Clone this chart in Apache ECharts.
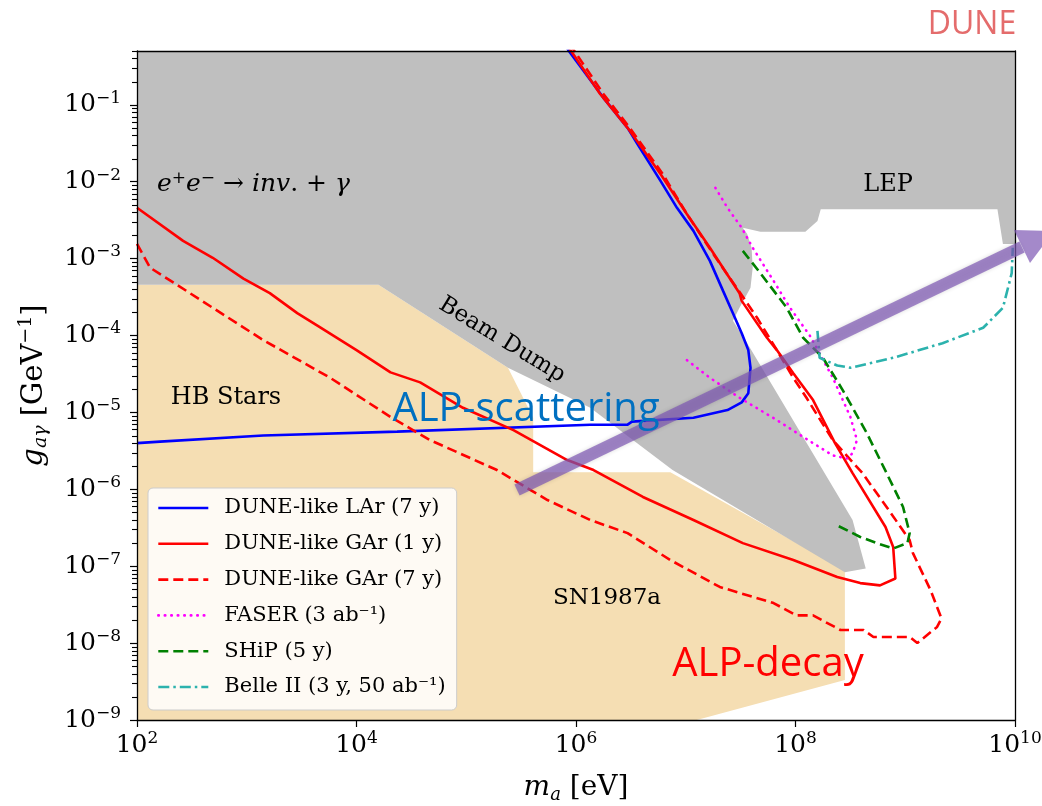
<!DOCTYPE html>
<html>
<head>
<meta charset="utf-8">
<title>ALP – photon coupling, DUNE</title>
<script src="https://cdn.jsdelivr.net/npm/echarts@6/dist/echarts.min.js"></script>
<style>
html, body { margin: 0; padding: 0; background: #fff; }
#chart { width: 1042px; height: 806px; }
</style>
</head>
<body>
<div id="chart"></div>
<script>
// every point is [log10(m_a / eV), log10(g_agamma / GeV^-1)]
const xTickExps = [2, 4, 6, 8, 10]
const yTickExps = [-9, -8, -7, -6, -5, -4, -3, -2, -1]
const yTop = 0.5
const minorMantissas = [2, 3, 4, 5, 6, 7, 8, 9]

const larSevenYears = [
  [2.00, -5.40], [2.21, -5.38], [3.15, -5.30], [4.37, -5.25], [6.13, -5.16], [6.47, -5.16],
  [6.51, -5.12], [7.07, -5.07], [7.25, -5.01], [7.38, -4.97], [7.51, -4.87], [7.57, -4.75],
  [7.59, -4.42], [7.57, -4.19], [7.51, -3.97], [7.43, -3.71], [7.34, -3.42], [7.22, -3.03],
  [7.07, -2.64], [6.92, -2.34], [6.77, -1.99], [6.56, -1.51], [6.47, -1.30], [6.25, -0.91],
  [5.94, -0.31], [5.92, -0.27]
]
const garOneYear = [
  [2.00, -2.34], [2.42, -2.77], [2.69, -2.99], [2.97, -3.26], [3.21, -3.45], [3.46, -3.71],
  [3.64, -3.87], [4.00, -4.19], [4.31, -4.48], [4.58, -4.61], [4.97, -4.94], [5.43, -5.23],
  [5.92, -5.62], [6.16, -5.75], [6.61, -6.10], [7.07, -6.40], [7.52, -6.70], [7.98, -6.92],
  [8.38, -7.14], [8.59, -7.22], [8.77, -7.25], [8.91, -7.16], [8.89, -6.75], [8.82, -6.49],
  [8.52, -5.79], [8.36, -5.40], [8.16, -4.84], [7.98, -4.49], [7.83, -4.19], [7.74, -4.03],
  [7.51, -3.55], [7.49, -3.45], [7.22, -2.86], [7.01, -2.42], [6.77, -1.90], [6.47, -1.30],
  [6.22, -0.86], [5.96, -0.31], [5.94, -0.27]
]
const garSevenYears = [
  [2.00, -2.81], [2.12, -3.12], [2.33, -3.31], [2.69, -3.64], [3.15, -4.06], [3.76, -4.55],
  [4.31, -5.06], [4.67, -5.36], [5.28, -5.75], [5.74, -6.14], [6.13, -6.40], [6.47, -6.57],
  [6.86, -6.92], [7.31, -7.27], [7.80, -7.48], [8.01, -7.64], [8.16, -7.64], [8.41, -7.83],
  [8.62, -7.83], [8.71, -7.92], [9.04, -7.92], [9.11, -8.00], [9.29, -7.79], [9.33, -7.68],
  [9.23, -7.31], [9.07, -6.83], [9.04, -6.66], [8.83, -6.23], [8.61, -5.79], [8.34, -5.36],
  [8.10, -4.81], [7.98, -4.55], [7.83, -4.19], [7.65, -3.77], [7.56, -3.58], [7.25, -2.94],
  [7.01, -2.42], [6.79, -1.90], [6.49, -1.30], [6.25, -0.86], [5.99, -0.31], [5.97, -0.27]
]
const faser = [
  [7.27, -2.08], [7.38, -2.34], [7.51, -2.60], [7.61, -2.86], [7.80, -3.29], [7.95, -3.64],
  [8.13, -4.00], [8.34, -4.55], [8.50, -5.06], [8.56, -5.36], [8.52, -5.53], [8.47, -5.60],
  [8.34, -5.56], [8.16, -5.40], [7.83, -5.10], [7.49, -4.81], [7.22, -4.55], [7.01, -4.32]
]
const ship = [
  [7.52, -2.90], [7.68, -3.19], [7.92, -3.64], [8.07, -4.03], [8.25, -4.29], [8.43, -4.71],
  [8.65, -5.27], [8.83, -5.79], [8.98, -6.23], [9.04, -6.57], [9.02, -6.70], [8.89, -6.77],
  [8.74, -6.70], [8.59, -6.62], [8.38, -6.47]
]
const belle2 = [
  [8.20, -3.94], [8.22, -4.29], [8.38, -4.39], [8.50, -4.42], [8.89, -4.29], [9.34, -4.10],
  [9.71, -3.90], [9.89, -3.64], [9.97, -3.19], [9.98, -2.86]
]
// HB stars + SN1987a (wheat) and e+e-/beam dump/LEP (grey) excluded regions
const starsRegion = [
  [2.00, -3.34], [4.20, -3.34], [5.38, -4.42], [5.61, -5.07], [5.61, -5.78], [6.86, -5.78],
  [8.45, -7.05], [8.45, -8.48], [7.10, -9.00], [2.00, -9.00]
]
const labRegion = [
  [2.00, -0.30], [10.00, -0.30], [10.00, -2.81], [9.89, -2.81], [9.84, -2.36], [8.23, -2.36],
  [8.20, -2.51], [8.09, -2.65], [7.68, -2.65], [7.52, -2.60], [7.56, -2.68], [7.60, -2.86],
  [7.61, -3.12], [7.59, -3.38], [7.49, -3.64], [7.43, -3.81], [7.56, -4.10], [8.52, -6.40],
  [8.64, -7.03], [8.45, -7.08], [6.88, -5.75], [6.13, -4.94], [5.38, -4.42], [4.20, -3.34],
  [2.00, -3.34]
]

const serif = 'DejaVu Serif'
const lineWidth = 2.6
const toValues = pts => pts.map(p => [Math.pow(10, p[0]), Math.pow(10, p[1])])
const xMin = Math.pow(10, xTickExps[0])
const xMax = Math.pow(10, xTickExps[xTickExps.length - 1])
const yMin = Math.pow(10, yTickExps[0])

const yMinor = []
yTickExps.forEach(e => {
  minorMantissas.forEach(m => {
    const v = m * Math.pow(10, e)
    if (v <= yTop) yMinor.push(v)
  })
})

function powerLabel(v) {
  const e = Math.round(Math.log10(v))
  if (Math.abs(Math.log10(v) - e) > 1e-6) return ''
  return '{b|10}{s|' + String(e).replace('-', '\u2212') + '}'
}
const labelRich = {
  b: { fontFamily: serif, fontSize: 25, color: '#000', lineHeight: 30 },
  s: { fontFamily: serif, fontSize: 17, color: '#000', lineHeight: 16, verticalAlign: 'top' }
}

function region(name, pts, color, z) {
  const data = toValues(pts)
  return {
    type: 'custom',
    name: name,
    z: z,
    silent: true,
    clip: true,
    data: data,
    renderItem(params, api) {
      if (params.dataIndex !== 0) return null
      return {
        type: 'polygon',
        shape: { points: data.map(d => api.coord(d)) },
        style: { fill: color }
      }
    }
  }
}

function curve(name, pts, color, type, cap) {
  return {
    type: 'line',
    name: name,
    data: toValues(pts),
    symbol: 'none',
    showSymbol: false,
    clip: true,
    z: 5,
    silent: true,
    lineStyle: { color: color, width: lineWidth, type: type, cap: cap || 'butt' },
    itemStyle: { color: color }
  }
}

function frameAxis(position) {
  return {
    type: 'value',
    position: position,
    min: 0,
    max: 1,
    z: 10,
    axisLine: { show: true, onZero: false, lineStyle: { color: '#000', width: 1.3 } },
    axisTick: { show: false },
    axisLabel: { show: false },
    splitLine: { show: false }
  }
}

// text annotations and the purple arrow drawn over the plot
const overlays = [
  { type: 'text', z: 60, x: 157, y: 184,
    style: {
      text: '{i|e}{s|+}{i|e}{s|\u2212}{n| \u2192 }{i|inv}{n|. + }{i|\u03b3}',
      verticalAlign: 'middle', fill: '#000',
      rich: {
        i: { fontFamily: serif, fontStyle: 'italic', fontSize: 25, lineHeight: 28 },
        n: { fontFamily: serif, fontSize: 25, lineHeight: 28 },
        s: { fontFamily: serif, fontSize: 17, lineHeight: 14, verticalAlign: 'top' }
      }
    } },
  { type: 'text', z: 60, x: 888, y: 185,
    style: { text: 'LEP', font: '24px "DejaVu Serif"', fill: '#000', align: 'center', verticalAlign: 'middle' } },
  { type: 'text', z: 60, x: 502, y: 340, rotation: -0.548,
    style: { text: 'Beam Dump', font: '23px "DejaVu Serif"', fill: '#000', align: 'center', verticalAlign: 'middle' } },
  { type: 'text', z: 60, x: 226, y: 398,
    style: { text: 'HB Stars', font: '24px "DejaVu Serif"', fill: '#000', align: 'center', verticalAlign: 'middle' } },
  { type: 'text', z: 60, x: 607, y: 598,
    style: { text: 'SN1987a', font: '23px "DejaVu Serif"', fill: '#000', align: 'center', verticalAlign: 'middle' } },
  { type: 'polyline', z: 70, shape: { points: [[517, 490], [1022, 247]] },
    style: { stroke: 'rgba(125,87,180,0.7)', lineWidth: 12, lineCap: 'butt', shadowBlur: 4, shadowColor: 'rgba(0,0,0,0.2)' } },
  { type: 'polygon', z: 70, shape: { points: [[1014, 230], [1030, 263], [1054, 231]] },
    style: { fill: 'rgba(125,87,180,0.7)' } },
  { type: 'text', z: 80, x: 526, y: 410,
    style: { text: 'ALP-scattering', font: '40px "Open Sans"', fill: '#0070c0', align: 'center', verticalAlign: 'middle' } },
  { type: 'text', z: 80, x: 768, y: 665,
    style: { text: 'ALP-decay', font: '40px "Open Sans"', fill: '#ff0000', align: 'center', verticalAlign: 'middle' } },
  { type: 'text', z: 80, x: 972, y: 25,
    style: { text: 'DUNE', font: '32px "Open Sans"', fill: '#e46c6c', align: 'center', verticalAlign: 'middle' } }
]

const chart = echarts.init(document.getElementById('chart'))

chart.setOption({
  animation: false,
  backgroundColor: '#fff',
  grid: { left: 137, right: 27, top: 51, bottom: 86, containLabel: false, outerBoundsMode: 'none' },
  legend: {
    orient: 'vertical',
    left: 148,
    top: 488,
    padding: [8, 11, 11, 9],
    itemWidth: 50,
    itemHeight: 14,
    itemGap: 11.8,
    backgroundColor: 'rgba(255,255,255,0.85)',
    borderColor: '#cccccc',
    borderWidth: 1,
    borderRadius: 5,
    itemStyle: { opacity: 0 },
    lineStyle: { width: lineWidth },
    textStyle: { fontFamily: serif, fontSize: 21, lineHeight: 24, color: '#000', padding: [0, 0, 0, 11] },
    data: [
      'DUNE-like LAr (7 y)', 'DUNE-like GAr (1 y)', 'DUNE-like GAr (7 y)',
      'FASER (3 ab\u207b\u00b9)', 'SHiP (5 y)', 'Belle II (3 y, 50 ab\u207b\u00b9)'
    ]
  },
  xAxis: [{
    type: 'log',
    logBase: 10,
    min: xMin,
    max: xMax,
    interval: 2,
    z: 10,
    name: '{i|m}{sub|a} [eV]',
    nameLocation: 'middle',
    nameGap: 52,
    nameTextStyle: {
      fontFamily: serif, fontSize: 28, color: '#000',
      rich: {
        i: { fontFamily: serif, fontStyle: 'italic', fontSize: 28, color: '#000', lineHeight: 32 },
        sub: { fontFamily: serif, fontStyle: 'italic', fontSize: 18, color: '#000', lineHeight: 14, verticalAlign: 'bottom' }
      }
    },
    axisLine: { show: true, lineStyle: { color: '#000', width: 1.3 } },
    axisTick: { show: true, length: 7, lineStyle: { color: '#000', width: 1.2 } },
    axisLabel: { margin: 10, formatter: powerLabel, rich: labelRich },
    splitLine: { show: false },
    minorTick: { show: false }
  }, frameAxis('top')],
  yAxis: [{
    type: 'log',
    logBase: 10,
    min: yMin,
    max: yTop,
    interval: 1,
    z: 10,
    name: '{i|g}{sub|a\u03b3} [GeV{sup|\u22121}]',
    nameLocation: 'middle',
    nameGap: 86,
    nameTextStyle: {
      fontFamily: serif, fontSize: 29, color: '#000',
      rich: {
        i: { fontFamily: serif, fontStyle: 'italic', fontSize: 29, color: '#000', lineHeight: 34 },
        sub: { fontFamily: serif, fontStyle: 'italic', fontSize: 19, color: '#000', lineHeight: 16, verticalAlign: 'bottom' },
        sup: { fontFamily: serif, fontSize: 19, color: '#000', lineHeight: 18, verticalAlign: 'top' }
      }
    },
    axisLine: { show: true, lineStyle: { color: '#000', width: 1.3 } },
    axisTick: { show: true, length: 7, lineStyle: { color: '#000', width: 1.2 } },
    axisLabel: { margin: 16, formatter: powerLabel, rich: labelRich, showMaxLabel: false },
    splitLine: { show: false },
    minorTick: { show: false }
  }, frameAxis('right')],
  series: [
    region('HB Stars / SN1987a', starsRegion, '#f5deb3', 1),
    region('e+e- / Beam Dump / LEP', labRegion, '#bfbfbf', 2),
    curve('DUNE-like LAr (7 y)', larSevenYears, '#0000ff', 'solid'),
    curve('DUNE-like GAr (1 y)', garOneYear, '#ff0000', 'solid'),
    curve('DUNE-like GAr (7 y)', garSevenYears, '#ff0000', [10, 5]),
    curve('FASER (3 ab\u207b\u00b9)', faser, '#ff00ff', [0.5, 6], 'round'),
    curve('SHiP (5 y)', ship, '#008000', [10, 5]),
    curve('Belle II (3 y, 50 ab\u207b\u00b9)', belle2, '#2cb2ad', [11, 4, 2.5, 4])
  ],
  graphic: overlays
})

// matplotlib-style minor ticks on the log y axis, placed through the axis scale
const axisX = chart.convertToPixel({ xAxisIndex: 0 }, xMin)
const minorTicks = yMinor.map(v => {
  const y = Math.round(chart.convertToPixel({ yAxisIndex: 0 }, v)) + 0.5
  return {
    type: 'line', z: 90, silent: true,
    shape: { x1: axisX - 5, y1: y, x2: axisX, y2: y },
    style: { stroke: '#000', lineWidth: 1.1 }
  }
})
chart.setOption({ graphic: overlays.concat(minorTicks) })
</script>
</body>
</html>
